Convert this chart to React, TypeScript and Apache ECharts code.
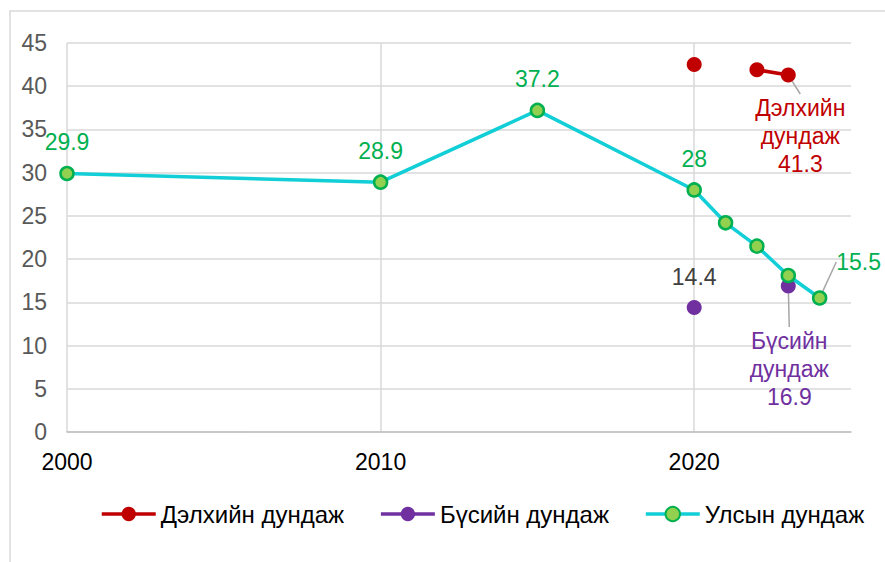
import React, { useEffect, useRef } from 'react';
import * as echarts from 'echarts';

const worldName = 'Дэлхийн дундаж';
const regionName = 'Бүсийн дундаж';
const nationalName = 'Улсын дундаж';

const worldYears = [2020, 2021, 2022, 2023];
const worldValues: (number | null)[] = [42.5, null, 41.9, 41.3];

const regionYears = [2020, 2021, 2022, 2023];
const regionValues: (number | null)[] = [14.4, null, null, 16.9];

const nationalYears = [2000, 2010, 2015, 2020, 2021, 2022, 2023, 2024];
const nationalValues = [29.9, 28.9, 37.2, 28, 24.2, 21.5, 18.1, 15.5];
const nationalLabeled = [true, true, true, true, false, false, false, true];

const xTicks = { min: 2000, max: 2025, interval: 10 };
const yTicks = { min: 0, max: 45, interval: 5 };

const FONT = '"Liberation Sans", Arial, sans-serif';
const RED = '#C00000';
const PURPLE = '#7030A0';
const CYAN = '#12CED6';
const GREEN = '#00B050';
const LIGHTGREEN = '#92D050';
const GUIDE = { show: true, lineStyle: { color: '#A6A6A6', width: 1.5 } };

export default function App() {
  const ref = useRef<HTMLDivElement>(null);
  useEffect(() => {
    if (!ref.current) return;
    const chart = echarts.init(ref.current, null, { renderer: 'svg' });

    const worldLast = worldYears.length - 1;
    const worldData = worldYears.map((y, i) => {
      const v = worldValues[i];
      if (v == null) return [y, '-'];
      if (i === worldLast) {
        return {
          value: [y, v],
          label: {
            show: true,
            position: 'inside',
            color: RED,
            lineHeight: 28,
            formatter: (p: any) => `Дэлхийн\nдундаж\n${p.value[1]}`,
          },
          labelLine: GUIDE,
        };
      }
      return [y, v];
    });

    const regionLast = regionYears.length - 1;
    const regionData = regionYears.map((y, i) => {
      const v = regionValues[i];
      if (v == null) return [y, '-'];
      if (i === 0) {
        return {
          value: [y, v],
          label: { show: true, position: 'top', distance: 12, color: '#404040' },
        };
      }
      return {
        value: [y, v],
        label: {
          show: true,
          position: 'inside',
          color: PURPLE,
          lineHeight: 28,
          formatter: (p: any) => `Бүсийн\nдундаж\n${p.value[1]}`,
        },
        labelLine: GUIDE,
      };
    });

    const nationalLast = nationalYears.length - 1;
    const nationalData = nationalYears.map((y, i) => {
      const v = nationalValues[i];
      if (!nationalLabeled[i]) return [y, v];
      if (i === nationalLast) {
        return {
          value: [y, v],
          label: { show: true, position: 'inside', color: GREEN },
          labelLine: GUIDE,
        };
      }
      return {
        value: [y, v],
        label: { show: true, position: 'top', distance: 12, color: GREEN },
      };
    });

    const labelBase = {
      show: false,
      fontFamily: FONT,
      fontSize: 23,
      formatter: (p: any) => String(p.value[1]),
    };

    chart.setOption({
      animation: false,
      backgroundColor: '#ffffff',
      textStyle: { fontFamily: FONT },
      graphic: [
        {
          type: 'rect',
          shape: { x: 10, y: 11, width: 1000, height: 1000 },
          style: { fill: 'none', stroke: '#D9D9D9', lineWidth: 1.5 },
          silent: true,
        },
      ],
      grid: { left: 67, right: 34, top: 43, bottom: 130, outerBoundsMode: 'none' },
      legend: {
        data: [worldName, regionName, nationalName],
        left: 95,
        top: 497,
        itemWidth: 54,
        itemHeight: 18,
        itemGap: 35,
        lineStyle: { width: 3.5 },
        textStyle: { fontFamily: FONT, fontSize: 24, color: '#000000' },
      },
      xAxis: {
        type: 'value',
        min: xTicks.min,
        max: xTicks.max,
        interval: xTicks.interval,
        axisLine: { show: true, lineStyle: { color: '#BFBFBF', width: 1.5 } },
        axisTick: { show: false },
        axisLabel: {
          color: '#000000',
          fontFamily: FONT,
          fontSize: 23,
          margin: 18,
          showMaxLabel: false,
          formatter: (v: number) => String(v),
        },
        splitLine: {
          show: true,
          showMinLine: true,
          showMaxLine: false,
          lineStyle: { color: '#D9D9D9', width: 1.5 },
        },
      },
      yAxis: {
        type: 'value',
        min: yTicks.min,
        max: yTicks.max,
        interval: yTicks.interval,
        axisLine: { show: false },
        axisTick: { show: false },
        axisLabel: { color: '#595959', fontFamily: FONT, fontSize: 23, margin: 20 },
        splitLine: { show: true, lineStyle: { color: '#D9D9D9', width: 1.5 } },
      },
      series: [
        {
          name: worldName,
          type: 'line',
          data: worldData,
          connectNulls: false,
          symbol: 'circle',
          symbolSize: 15,
          itemStyle: { color: RED },
          lineStyle: { color: RED, width: 3.5 },
          label: labelBase,
          labelLayout: (p: any) => (p.dataIndex === worldLast ? { dx: 12, dy: 61 } : {}),
          z: 2,
        },
        {
          name: regionName,
          type: 'line',
          data: regionData,
          connectNulls: false,
          symbol: 'circle',
          symbolSize: 15,
          itemStyle: { color: PURPLE },
          lineStyle: { color: PURPLE, width: 3.5 },
          label: labelBase,
          labelLayout: (p: any) => (p.dataIndex === regionLast ? { dx: 1, dy: 83 } : {}),
          z: 3,
        },
        {
          name: nationalName,
          type: 'line',
          data: nationalData,
          symbol: 'circle',
          symbolSize: 13,
          itemStyle: { color: LIGHTGREEN, borderColor: GREEN, borderWidth: 2.5 },
          lineStyle: { color: CYAN, width: 3.5 },
          label: labelBase,
          labelLayout: (p: any) => (p.dataIndex === nationalLast ? { dx: 39, dy: -36 } : {}),
          z: 4,
        },
      ],
    });
    return () => chart.dispose();
  }, []);
  return (
    <div
      ref={ref}
      style={{ position: 'absolute', left: 0, top: 0, width: 885, height: 562, background: '#fff' }}
    />
  );
}
